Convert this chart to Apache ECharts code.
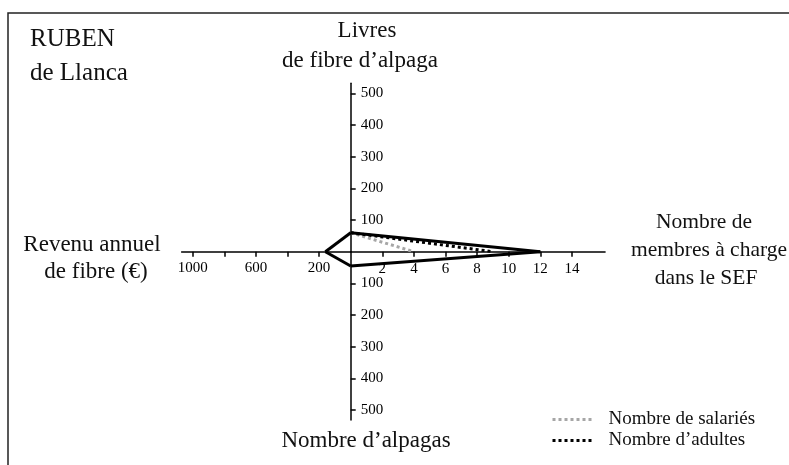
<!DOCTYPE html>
<html>
<head>
<meta charset="utf-8">
<script src="https://cdn.jsdelivr.net/npm/echarts@6/dist/echarts.min.js"></script>
<style>
    html, body { margin: 0; padding: 0; background: #fff; }
    #chart { width: 789px; height: 465px; }
</style>
</head>
<body>
<div id="chart"></div>
<script>
    // valeurs du cerf-volant : livres (haut), membres (droite), alpagas (bas), revenu (gauche)
    const livresFibre = 60;
    const membresCharge = 12;
    const nombreAlpagas = 45;
    const revenuFibre = 160;
    // lignes pointillées : du point "livres" vers l'axe des membres
    const salariesLine = [[0, 60], [4, 0]];
    const adultesLine = [[0, 60], [9, 0]];

    // graduations
    const membresTicks = [2, 4, 6, 8, 10, 12, 14];
    const revenuTicks = [200, 400, 600, 800, 1000];
    const revenuLabels = [200, 600, 1000];
    const verticalTicks = [100, 200, 300, 400, 500];

    const membresMax = 16.1, revenuMax = 1070, verticalMax = 532;

    // mise en page (pixels)
    const cx = 350.7, cy = 251.7;
    const pxMembres = 15.8, pxRevenu = 0.158, pxVertical = 0.3165;
    const wRight = membresMax * pxMembres;
    const wLeft = revenuMax * pxRevenu;
    const hV = verticalMax * pxVertical;

    const font = 'Liberation Serif';
    const black = '#000';

    const chart = echarts.init(document.getElementById('chart'), null, {renderer: 'canvas'});

    function axis(opt) {
        return Object.assign({
            type: 'value',
            axisLine: {show: false},
            axisTick: {show: false},
            axisLabel: {show: false},
            splitLine: {show: false}
        }, opt);
    }

    const shownLine = {show: true, onZero: false, lineStyle: {color: black, width: 1.5}};
    const tickLabel = {color: black, fontFamily: font, fontSize: 15, formatter: (v) => String(v)};

    function seg(name, xi, data, style) {
        return {
            name: name,
            type: 'line',
            xAxisIndex: xi,
            yAxisIndex: xi,
            data: data,
            symbol: 'none',
            clip: false,
            animation: false,
            itemStyle: {color: style.color},
            lineStyle: style
        };
    }

    const kiteStyle = {color: black, width: 3, join: 'miter'};

    function title(text, x, y, size) {
        return {
            type: 'text', x: x, y: y,
            style: {text: text, font: size + 'px "Liberation Serif"', fill: '#111', align: 'center', verticalAlign: 'middle'}
        };
    }

    let option = {
        backgroundColor: '#fff',
        animation: false,
        grid: [
            {left: cx, top: cy - hV, width: wRight, height: hV, outerBoundsMode: 'none'}, // haut droite
            {left: cx, top: cy, width: wRight, height: hV, outerBoundsMode: 'none'}, // bas droite
            {left: cx - wLeft, top: cy, width: wLeft, height: hV, outerBoundsMode: 'none'}, // bas gauche
            {left: cx - wLeft, top: cy - hV, width: wLeft, height: hV, outerBoundsMode: 'none'} // haut gauche
        ],
        xAxis: [
            axis({
                gridIndex: 0, min: 0, max: membresMax,
                axisLine: shownLine,
                axisTick: {show: true, length: 5, customValues: membresTicks, lineStyle: {color: black, width: 1.5}},
                axisLabel: Object.assign({show: true, margin: 10, customValues: membresTicks}, tickLabel)
            }),
            axis({gridIndex: 1, min: 0, max: membresMax}),
            axis({gridIndex: 2, min: 0, max: revenuMax, inverse: true}),
            axis({
                gridIndex: 3, min: 0, max: revenuMax, inverse: true,
                axisLine: shownLine,
                axisTick: {show: true, length: 5, customValues: revenuTicks, lineStyle: {color: black, width: 1.5}},
                axisLabel: Object.assign({show: true, margin: 9, customValues: revenuLabels}, tickLabel)
            })
        ],
        yAxis: [
            axis({
                gridIndex: 0, min: 0, max: verticalMax,
                axisLine: shownLine,
                axisTick: {show: true, inside: true, length: 5, customValues: verticalTicks, lineStyle: {color: black, width: 1.5}},
                axisLabel: Object.assign({show: true, inside: true, margin: 10, customValues: verticalTicks}, tickLabel)
            }),
            axis({
                gridIndex: 1, min: 0, max: verticalMax, inverse: true,
                axisLine: shownLine,
                axisTick: {show: true, inside: true, length: 5, customValues: verticalTicks, lineStyle: {color: black, width: 1.5}},
                axisLabel: Object.assign({show: true, inside: true, margin: 10, customValues: verticalTicks}, tickLabel)
            }),
            axis({gridIndex: 2, min: 0, max: verticalMax, inverse: true}),
            axis({gridIndex: 3, min: 0, max: verticalMax})
        ],
        legend: {
            orient: 'vertical',
            left: 546,
            top: 405,
            itemWidth: 42,
            itemHeight: 12,
            itemGap: 2,
            data: ['Nombre de salariés', 'Nombre d’adultes'],
            itemStyle: {color: 'rgba(0,0,0,0)', borderWidth: 0, opacity: 0},
            lineStyle: {width: 3},
            textStyle: {color: '#111', fontFamily: font, fontSize: 19, padding: [0, 0, 0, 9]}
        },
        series: [
            seg('Nombre de salariés', 0, salariesLine, {color: '#a6a6a6', width: 3, type: 'dotted'}),
            seg('Nombre d’adultes', 0, adultesLine, {color: black, width: 3, type: 'dotted'}),
            seg('k1', 0, [[0, livresFibre], [membresCharge, 0]], kiteStyle),
            seg('k2', 1, [[membresCharge, 0], [0, nombreAlpagas]], kiteStyle),
            seg('k3', 2, [[0, nombreAlpagas], [revenuFibre, 0]], kiteStyle),
            seg('k4', 3, [[revenuFibre, 0], [0, livresFibre]], kiteStyle)
        ],
        graphic: [
            {type: 'polyline', shape: {points: [[8, 465], [8, 13], [789, 13]]}, style: {stroke: '#222', lineWidth: 1.5, fill: null}},
            {type: 'text', x: 30, y: 39, style: {text: 'RUBEN', font: '25px "Liberation Serif"', fill: '#111', verticalAlign: 'middle'}},
            {type: 'text', x: 30, y: 73, style: {text: 'de Llanca', font: '25px "Liberation Serif"', fill: '#111', verticalAlign: 'middle'}},
            title('Livres', 367, 31, 23),
            title('de fibre d’alpaga', 360, 61, 23),
            title('Nombre de', 704, 222, 21.5),
            title('membres à charge', 709, 250, 21.5),
            title('dans le SEF', 706, 278, 21.5),
            title('Revenu annuel', 92, 245, 23),
            title('de fibre (€)', 96, 272, 23),
            title('Nombre d’alpagas', 366, 441, 23)
        ]
    };

    chart.setOption(option);
</script>
</body>
</html>
